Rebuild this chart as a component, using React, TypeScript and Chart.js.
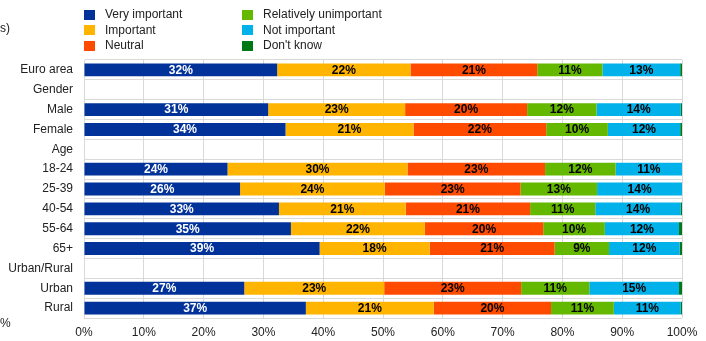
import React, { useEffect, useRef } from "react";
import { Chart, registerables } from "chart.js";

Chart.register(...registerables);

const categories = [
  "Euro area", "Gender", "Male", "Female", "Age", "18-24", "25-39",
  "40-54", "55-64", "65+", "Urban/Rural", "Urban", "Rural",
];

const seriesNames = [
  "Very important", "Important", "Neutral",
  "Relatively unimportant", "Not important", "Don't know",
];

const seriesColors = ["#003299", "#FFB400", "#FF4B00", "#65B800", "#00B1EA", "#007816"];

const veryImportant = [32.3, null, 30.8, 33.7, null, 24.0, 26.1, 32.6, 34.6, 39.4, null, 26.8, 37.1];
const important = [22.3, null, 22.9, 21.4, null, 30.1, 24.2, 21.2, 22.4, 18.4, null, 23.4, 21.4];
const neutral = [21.2, null, 20.4, 22.2, null, 23.0, 22.7, 20.8, 19.8, 20.9, null, 22.9, 19.6];
const relativelyUnimportant = [10.9, null, 11.6, 10.3, null, 11.8, 12.8, 10.9, 10.3, 9.1, null, 11.4, 10.5];
const notImportant = [13.0, null, 14.1, 12.1, null, 11.1, 14.2, 14.3, 12.4, 11.8, null, 15.0, 11.2];
const dontKnow = [0.3, null, 0.2, 0.3, null, 0.0, 0.0, 0.2, 0.5, 0.4, null, 0.5, 0.2];

const seriesValues = [veryImportant, important, neutral, relativelyUnimportant, notImportant, dontKnow];

const xTicks = [0, 10, 20, 30, 40, 50, 60, 70, 80, 90, 100];

const FONT = '"Liberation Sans", Arial, sans-serif';

const labelPlugin = {
  id: "segmentLabels",
  afterDatasetsDraw(chart: any) {
    const ctx = chart.ctx;
    ctx.save();
    ctx.font = `bold 12px ${FONT}`;
    ctx.textAlign = "center";
    ctx.textBaseline = "middle";
    chart.data.datasets.forEach((ds: any, di: number) => {
      if (di === 5) return;
      const meta = chart.getDatasetMeta(di);
      meta.data.forEach((el: any, i: number) => {
        const v = ds.data[i];
        if (v == null || v < 3) return;
        const cx = (el.x + el.base) / 2;
        ctx.fillStyle = di === 0 ? "#ffffff" : "#000000";
        ctx.fillText(Math.round(v) + "%", cx, el.y + 0.5);
      });
    });
    ctx.restore();
  },
};

export default function App() {
  const ref = useRef<HTMLCanvasElement>(null);

  useEffect(() => {
    if (!ref.current) return;
    const chart = new Chart(ref.current, {
      type: "bar",
      data: {
        labels: categories,
        datasets: seriesNames.map((name, i) => ({
          label: name,
          data: seriesValues[i] as any,
          backgroundColor: seriesColors[i],
          borderWidth: 0,
          barPercentage: 0.65,
          categoryPercentage: 1,
        })),
      },
      options: {
        indexAxis: "y",
        responsive: false,
        animation: false,
        devicePixelRatio: 1,
        layout: { padding: { top: 60, right: 24, bottom: 0, left: 0 } },
        plugins: {
          legend: { display: false },
          tooltip: { enabled: false },
        },
        scales: {
          x: {
            stacked: true,
            min: 0,
            max: 100,
            afterBuildTicks: (scale: any) => {
              scale.ticks = xTicks.map((v) => ({ value: v }));
            },
            afterFit: (scale: any) => {
              scale.height = 23;
            },
            ticks: {
              callback: (v: any) => v + "%",
              font: { family: FONT, size: 12 },
              color: "#222",
              padding: 7,
              maxRotation: 0,
            },
            grid: { color: "#d9d9d9", drawTicks: false, lineWidth: 1 },
            border: { display: false },
          },
          y: {
            stacked: true,
            afterFit: (scale: any) => {
              scale.width = 84;
            },
            ticks: {
              font: { family: FONT, size: 12 },
              color: "#222",
              padding: 11,
            },
            grid: { color: "#d9d9d9", drawTicks: false, offset: true, lineWidth: 1 },
            border: { color: "#d9d9d9" },
          },
        },
      },
      plugins: [labelPlugin],
    } as any);
    return () => chart.destroy();
  }, []);

  const legendItem = (i: number, col: number, row: number) => (
    <div
      key={i}
      style={{
        position: "absolute",
        left: col === 0 ? 84 : 242,
        top: 9 + row * 15.5,
        height: 11,
        display: "flex",
        alignItems: "center",
        whiteSpace: "nowrap",
      }}
    >
      <div style={{ width: 11, height: 10, background: seriesColors[i], marginRight: 10 }} />
      <span style={{ fontFamily: FONT, fontSize: 12, color: "#222", lineHeight: "11px" }}>
        {seriesNames[i]}
      </span>
    </div>
  );

  return (
    <div style={{ position: "absolute", left: 0, top: 0, width: 706, height: 341, overflow: "hidden", background: "#fff" }}>
      <canvas ref={ref} width={706} height={341} style={{ position: "absolute", left: 0, top: 0, width: 706, height: 341 }} />
      {seriesNames.map((_, i) => legendItem(i, i < 3 ? 0 : 1, i % 3))}
      <div style={{ position: "absolute", left: 0, top: 21, fontFamily: FONT, fontSize: 12, color: "#222", lineHeight: "14px" }}>s)</div>
      <div style={{ position: "absolute", left: 0, top: 316, fontFamily: FONT, fontSize: 12, color: "#222", lineHeight: "14px" }}>%</div>
    </div>
  );
}
